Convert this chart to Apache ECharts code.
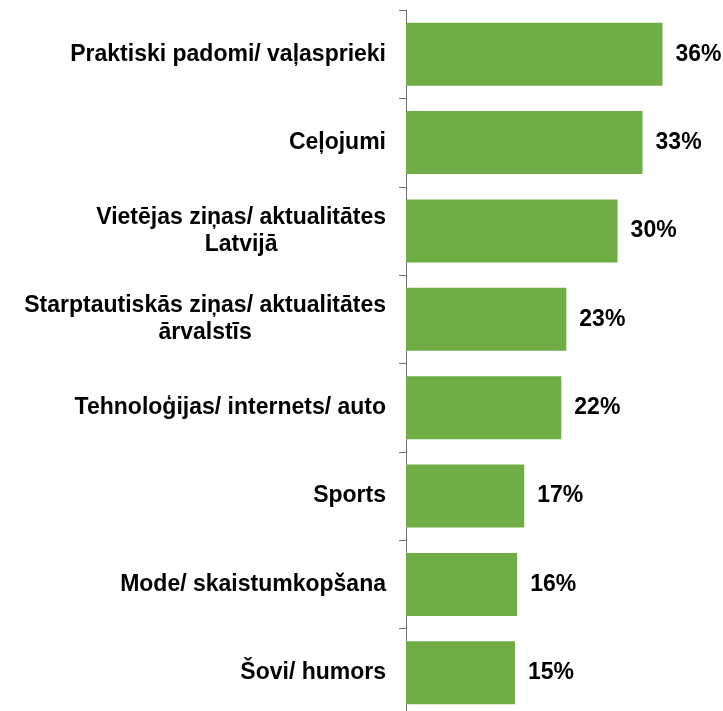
<!DOCTYPE html>
<html>
<head>
<meta charset="utf-8">
<script src="https://cdn.jsdelivr.net/npm/echarts@6/dist/echarts.min.js"></script>
<style>
  html, body { margin: 0; padding: 0; background: #fff; }
  #main { width: 723px; height: 711px; }
</style>
</head>
<body>
<div id="main"></div>
<script>
// kategorijas (no augšas uz leju)
var categories = [
  'Praktiski padomi/ vaļasprieki',
  'Ceļojumi',
  'Vietējas ziņas/ aktualitātes\nLatvijā',
  'Starptautiskās ziņas/ aktualitātes\nārvalstīs',
  'Tehnoloģijas/ internets/ auto',
  'Sports',
  'Mode/ skaistumkopšana',
  'Šovi/ humors'
];
// vērtības, %
var values = [36.0, 33.2, 29.7, 22.5, 21.8, 16.6, 15.6, 15.3];

var font = '"Liberation Sans", Arial, sans-serif';

var myChart = echarts.init(document.getElementById('main'));
myChart.setOption({
  animation: false,
  grid: { left: 406, width: 285, top: 10, height: 707, outerBoundsMode: 'none' },
  xAxis: {
    type: 'value',
    min: 0,
    max: 40,
    show: false
  },
  yAxis: {
    type: 'category',
    data: categories,
    inverse: true,
    axisLine: { show: true, lineStyle: { color: '#707070', width: 1 } },
    axisTick: { show: true, length: 7, lineStyle: { color: '#707070' } },
    axisLabel: {
      margin: 20,
      align: 'right',
      fontFamily: font,
      fontWeight: 'bold',
      fontSize: 23,
      formatter: function (v) {
        // katra rinda centrēta bloka ietvaros
        return v.split('\n').map(function (l) { return '{c|' + l + '}'; }).join('\n');
      },
      rich: {
        c: {
          align: 'center',
          fontFamily: font,
          fontWeight: 'bold',
          fontSize: 23,
          lineHeight: 27,
          color: '#000'
        }
      }
    }
  },
  series: [{
    type: 'bar',
    data: values,
    barWidth: 63,
    itemStyle: { color: '#70AD47' },
    label: {
      show: true,
      position: 'right',
      distance: 13,
      fontFamily: font,
      fontWeight: 'bold',
      fontSize: 23,
      color: '#000',
      formatter: function (p) { return Math.round(p.value) + '%'; }
    }
  }]
});
</script>
</body>
</html>
